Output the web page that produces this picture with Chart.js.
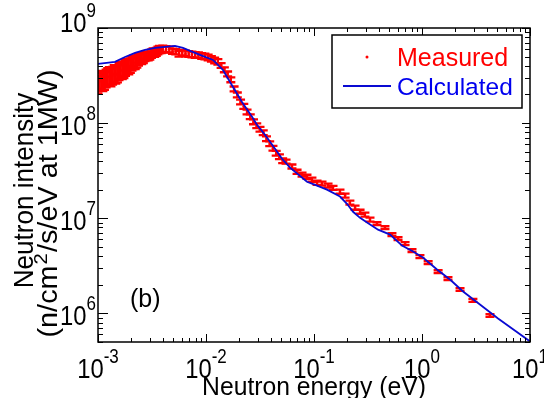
<!DOCTYPE html>
<html>
<head>
<meta charset="utf-8">
<script src="https://cdn.jsdelivr.net/npm/chart.js@4/dist/chart.umd.min.js"></script>
<style>
  html, body { margin: 0; padding: 0; background: #fff; }
  #wrap { width: 544px; height: 398px; }
</style>
</head>
<body>
<div id="wrap"><canvas id="spectrumChart" width="544" height="398"></canvas></div>
<script>
// Measured neutron spectrum (eV, n/cm2/s/eV at 1MW), relative error
const measuredEnergy = [
    0.001000, 0.001035, 0.001072, 0.001109, 0.001148, 0.001189, 0.001230, 0.001274, 0.001318, 0.001365,
    0.001413, 0.001462, 0.001514, 0.001567, 0.001622, 0.001679, 0.001738, 0.001799, 0.001862, 0.001928,
    0.001995, 0.002065, 0.002138, 0.002213, 0.002291, 0.002371, 0.002455, 0.002541, 0.002630, 0.002723,
    0.002818, 0.002917, 0.003020, 0.003126, 0.003236, 0.003350, 0.003467, 0.003589, 0.003715, 0.003846,
    0.003981, 0.004266, 0.004571, 0.004898, 0.005248, 0.005623, 0.006026, 0.006457, 0.006918, 0.007413,
    0.007943, 0.008511, 0.009120, 0.009772, 0.01047, 0.01122, 0.01202, 0.01288, 0.01380, 0.01479,
    0.01585, 0.01698, 0.01820, 0.01950, 0.02089, 0.02239, 0.02399, 0.02570, 0.02754, 0.02951,
    0.03162, 0.03388, 0.03631, 0.03890, 0.04169, 0.04467, 0.04786, 0.05129,
    0.0551, 0.0625, 0.0697, 0.0775, 0.0861, 0.0957, 0.1067, 0.1186, 0.1349, 0.150,
    0.174, 0.194, 0.215, 0.240, 0.267, 0.296, 0.330, 0.383, 0.454, 0.527,
    0.600, 0.697, 0.808, 0.957, 1.14, 1.41, 1.74, 2.25, 2.96, 4.26
];
const measuredIntensity = [
    2.55e8, 2.72e8, 2.85e8, 2.70e8, 2.78e8, 2.95e8, 3.05e8, 3.12e8, 3.02e8, 3.15e8,
    3.28e8, 3.22e8, 3.30e8, 3.48e8, 3.60e8, 3.55e8, 3.62e8, 3.80e8, 3.95e8, 3.90e8,
    4.02e8, 4.20e8, 4.35e8, 4.30e8, 4.45e8, 4.62e8, 4.78e8, 4.70e8, 4.80e8, 4.98e8,
    5.08e8, 5.05e8, 5.15e8, 5.35e8, 5.52e8, 5.48e8, 5.62e8, 5.80e8, 5.95e8, 5.92e8,
    6.05e8, 5.98e8, 5.92e8, 5.70e8, 5.62e8, 5.35e8, 5.50e8, 5.40e8, 5.33e8, 5.27e8,
    5.21e8, 5.18e8, 5.08e8, 5.02e8, 4.90e8, 4.73e8, 4.56e8, 4.40e8, 4.04e8, 3.63e8,
    3.29e8, 2.85e8, 2.29e8, 1.98e8, 1.67e8, 1.50e8, 1.31e8, 1.165e8, 1.032e8, 9.37e7,
    8.61e7, 7.91e7, 6.84e7, 6.07e7, 5.44e7, 4.82e7, 4.43e7, 4.02e7,
    3.93e7, 3.50e7, 3.08e7, 2.87e7, 2.73e7, 2.54e7, 2.36e7, 2.31e7, 2.20e7, 2.09e7,
    1.90e7, 1.73e7, 1.46e7, 1.29e7, 1.17e7, 1.09e7, 9.67e6, 8.77e6, 7.96e6, 6.73e6,
    6.11e6, 5.41e6, 4.57e6, 3.95e6, 3.42e6, 2.75e6, 2.32e6, 1.78e6, 1.37e6, 9.5e5
];
const measuredError = [
    0.24, 0.24, 0.24, 0.24, 0.24, 0.24, 0.24, 0.24, 0.24, 0.24,
    0.24, 0.235, 0.23, 0.23, 0.23, 0.225, 0.22, 0.21, 0.20, 0.195,
    0.19, 0.18, 0.175, 0.165, 0.16, 0.15, 0.135, 0.125, 0.12, 0.11,
    0.105, 0.105, 0.105, 0.105, 0.105, 0.10, 0.10, 0.095, 0.09, 0.085,
    0.075, 0.075, 0.075, 0.065, 0.065, 0.07, 0.07, 0.07, 0.07, 0.07,
    0.07, 0.07, 0.07, 0.07, 0.07, 0.07, 0.07, 0.07, 0.06, 0.06,
    0.06, 0.06, 0.06, 0.06, 0.06, 0.06, 0.06, 0.06, 0.06, 0.06,
    0.06, 0.06, 0.06, 0.06, 0.06, 0.06, 0.06, 0.06,
    0.05, 0.05, 0.05, 0.05, 0.05, 0.05, 0.05, 0.05, 0.05, 0.05,
    0.05, 0.05, 0.05, 0.05, 0.05, 0.05, 0.05, 0.035, 0.035, 0.035,
    0.035, 0.035, 0.035, 0.035, 0.035, 0.035, 0.035, 0.035, 0.035, 0.035
];

// Calculated spectrum
const calculatedEnergy = [
    0.001, 0.001436, 0.001778, 0.002203, 0.002723, 0.003373, 0.00417, 0.00516, 0.00612, 0.00711,
    0.0088, 0.01161, 0.01436, 0.01778, 0.02153, 0.02667, 0.02965, 0.03516, 0.04356, 0.0506,
    0.060, 0.0861, 0.1067, 0.1318, 0.174, 0.202, 0.230, 0.267, 0.310, 0.392,
    0.506, 0.653, 0.826, 1.02, 1.377, 1.816, 2.40, 3.44, 5.06, 10
];
const calculatedIntensity = [
    4.19e8, 4.40e8, 4.96e8, 5.47e8, 5.88e8, 6.17e8, 6.32e8, 6.48e8, 6.17e8, 5.74e8,
    5.21e8, 4.62e8, 3.62e8, 2.40e8, 1.67e8, 1.165e8, 9.6e7, 7.54e7, 5.37e7, 4.22e7,
    3.40e7, 2.42e7, 2.20e7, 2.00e7, 1.69e7, 1.42e7, 1.17e7, 1.01e7, 9.0e6, 7.59e6,
    6.73e6, 5.16e6, 4.47e6, 3.87e6, 2.89e6, 2.27e6, 1.70e6, 1.24e6, 8.83e5, 5.07e5
];

// Decade tick labels (10^n)
const xTickExponents = [-3, -2, -1, 0, 1];
const yTickExponents = [6, 7, 8, 9];

const FONT = '"Liberation Sans", Arial, sans-serif';
const RED = '#ff0000';
const BLUE = '#0a0ad2';

function drawScaledText(ctx, txt, x, y, font, sx, align) {
    ctx.save();
    ctx.font = font;
    const w = ctx.measureText(txt).width * sx;
    const left = align === 'center' ? x - w / 2 : align === 'right' ? x - w : x;
    ctx.translate(left, y);
    ctx.scale(sx, 1);
    ctx.textAlign = 'left';
    ctx.textBaseline = 'alphabetic';
    ctx.fillText(txt, 0, 0);
    ctx.restore();
    return w;
}

function drawPower(ctx, exp, x, yMid, align) {
    const base = '28px ' + FONT, sup = '20px ' + FONT, sx = 0.85;
    ctx.font = base;
    const wb = ctx.measureText('10').width * sx;
    ctx.font = sup;
    const ws = ctx.measureText(String(exp)).width * sx;
    const left = align === 'right' ? x - wb - ws : x - (wb + ws) / 2;
    drawScaledText(ctx, '10', left, yMid + 10, base, sx, 'left');
    drawScaledText(ctx, String(exp), left + wb, yMid - 5, sup, sx, 'left');
}

// Vertical error bars with caps for the measured set
const errorBars = {
    id: 'errorBars',
    afterDatasetDraw(chart, args) {
        if (args.index !== 0) return;
        const { ctx, chartArea: a, scales: { x, y } } = chart;
        ctx.save();
        ctx.beginPath();
        ctx.rect(a.left, a.top, a.width, a.height);
        ctx.clip();
        ctx.strokeStyle = RED;
        ctx.lineWidth = 2.3;
        measuredEnergy.forEach((e, i) => {
            const v = measuredIntensity[i], err = measuredError[i];
            const px = x.getPixelForValue(e);
            const hi = y.getPixelForValue(v * (1 + err));
            const lo = y.getPixelForValue(v / (1 + err));
            ctx.beginPath();
            ctx.moveTo(px, hi); ctx.lineTo(px, lo);
            ctx.moveTo(px - 4.5, hi); ctx.lineTo(px + 4.5, hi);
            ctx.moveTo(px - 4.5, lo); ctx.lineTo(px + 4.5, lo);
            ctx.stroke();
        });
        ctx.restore();
    }
};

// Box, inward ticks on all sides, labels, legend
const frame = {
    id: 'frame',
    afterDraw(chart) {
        const { ctx, chartArea: a, scales: { x, y } } = chart;
        ctx.save();
        ctx.strokeStyle = '#000';
        ctx.lineWidth = 1;
        const seg = (x1, y1, x2, y2) => { ctx.beginPath(); ctx.moveTo(x1, y1); ctx.lineTo(x2, y2); ctx.stroke(); };

        for (let d = -3; d <= 1; d++) {
            for (let m = 1; m <= 9; m++) {
                const v = m * Math.pow(10, d);
                if (v < x.min * 0.999 || v > x.max * 1.001) continue;
                const px = Math.round(x.getPixelForValue(v)) + 0.5;
                const len = m === 1 ? 8 : 4;
                seg(px, a.bottom, px, a.bottom - len);
                seg(px, a.top, px, a.top + len);
            }
        }
        for (let d = 5; d <= 9; d++) {
            for (let m = 1; m <= 9; m++) {
                const v = m * Math.pow(10, d);
                if (v < y.min * 0.999 || v > y.max * 1.001) continue;
                const py = Math.round(y.getPixelForValue(v)) + 0.5;
                seg(a.left, py, a.left + (m === 1 ? 10 : 5), py);
                seg(a.right, py, a.right - (m === 1 ? 8 : 5), py);
            }
        }
        ctx.lineWidth = 1.5;
        ctx.strokeRect(a.left, a.top, a.width, a.height);

        ctx.fillStyle = '#000';
        xTickExponents.forEach(n => drawPower(ctx, n, x.getPixelForValue(Math.pow(10, n)), 368, 'center'));
        // top label sits a little higher in the original
        yTickExponents.forEach(n => drawPower(ctx, n, 96, y.getPixelForValue(Math.pow(10, n)) + (n === 9 ? -6 : 2), 'right'));

        // axis titles
        drawScaledText(ctx, 'Neutron energy (eV)', (a.left + a.right) / 2, 395, '26px ' + FONT, 0.95, 'center');

        ctx.save();
        ctx.translate(33, 190.5);
        ctx.rotate(-Math.PI / 2);
        drawScaledText(ctx, 'Neutron intensity', 0, 0, '28px ' + FONT, 0.93, 'center');
        ctx.restore();

        ctx.save();
        ctx.translate(57, 203.5);
        ctx.rotate(-Math.PI / 2);
        const f2 = '27px ' + FONT, fs = '19px ' + FONT;
        ctx.font = f2;
        const wa = ctx.measureText('(n/cm').width, wc = ctx.measureText('/s/eV at 1MW)').width;
        ctx.font = fs;
        const wsup = ctx.measureText('2').width + 2;
        const s2 = 268 / (wa + wsup + wc);
        let cx = -(wa + wsup + wc) * s2 / 2;
        cx += drawScaledText(ctx, '(n/cm', cx, 0, f2, s2, 'left');
        drawScaledText(ctx, '2', cx + 1, -10, fs, s2, 'left');
        cx += wsup * s2;
        drawScaledText(ctx, '/s/eV at 1MW)', cx, 0, f2, s2, 'left');
        ctx.restore();

        drawScaledText(ctx, '(b)', 130, 307, '25px ' + FONT, 1, 'left');

        // legend
        const lx = a.right - 198, ly = a.top + 7;
        ctx.fillStyle = '#fff';
        ctx.fillRect(lx, ly, 190, 73);
        ctx.lineWidth = 1.5;
        ctx.strokeStyle = '#000';
        ctx.strokeRect(lx, ly, 190, 73);
        ctx.fillStyle = RED;
        ctx.beginPath();
        ctx.arc(lx + 35, ly + 22, 1.5, 0, Math.PI * 2);
        ctx.fill();
        drawScaledText(ctx, 'Measured', lx + 65, ly + 31, '25px ' + FONT, 1, 'left');
        ctx.strokeStyle = BLUE;
        ctx.lineWidth = 1.8;
        seg(lx + 11, ly + 51, lx + 59, ly + 51);
        ctx.fillStyle = '#0000ee';
        drawScaledText(ctx, 'Calculated', lx + 65, ly + 60, '24.5px ' + FONT, 1, 'left');
        ctx.restore();
    }
};

const ctx = document.getElementById('spectrumChart').getContext('2d');
new Chart(ctx, {
    type: 'scatter',
    data: {
        datasets: [{
            label: 'Measured',
            data: measuredEnergy.map((e, i) => ({ x: e, y: measuredIntensity[i] })),
            showLine: false,
            pointRadius: 1.2,
            pointBackgroundColor: RED,
            pointBorderWidth: 0,
            order: 2
        }, {
            label: 'Calculated',
            data: calculatedEnergy.map((e, i) => ({ x: e, y: calculatedIntensity[i] })),
            showLine: true,
            borderColor: BLUE,
            borderWidth: 1.8,
            pointRadius: 0,
            tension: 0,
            order: 1
        }]
    },
    options: {
        responsive: false,
        animation: false,
        devicePixelRatio: 1,
        layout: { padding: { left: 98, right: 14, top: 28, bottom: 56 } },
        scales: {
            x: { type: 'logarithmic', min: 1e-3, max: 10, display: false },
            y: { type: 'logarithmic', min: 5e5, max: 1e9, display: false }
        },
        plugins: {
            legend: { display: false },
            tooltip: { enabled: false }
        }
    },
    plugins: [errorBars, frame]
});
</script>
</body>
</html>
